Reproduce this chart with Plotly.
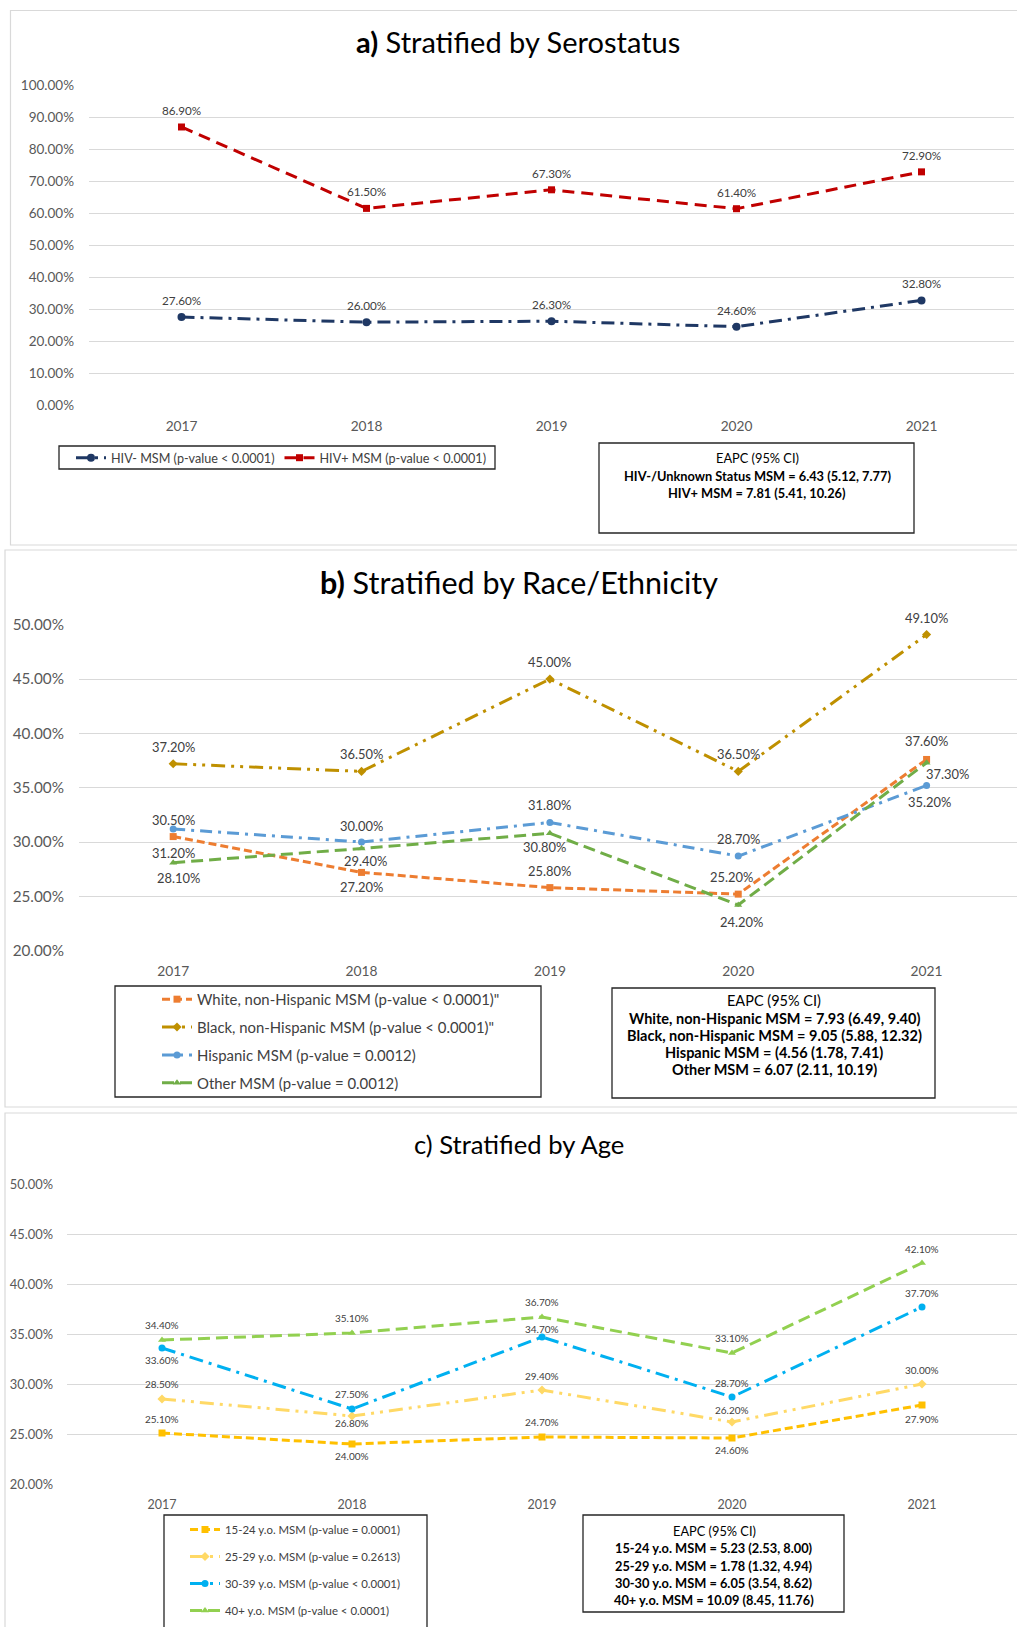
import plotly.graph_objects as go

# ---------------- data ----------------
years = ["2017", "2018", "2019", "2020", "2021"]

# a) serostatus
hiv_neg = [27.6, 26.0, 26.3, 24.6, 32.8]
hiv_pos = [86.9, 61.5, 67.3, 61.4, 72.9]
a_names = ["HIV- MSM (p-value < 0.0001)", "HIV+ MSM (p-value < 0.0001)"]
a_eapc = ["EAPC (95% CI)",
          "HIV-/Unknown Status MSM = 6.43 (5.12, 7.77)",
          "HIV+ MSM = 7.81 (5.41, 10.26)"]

# b) race / ethnicity
white = [30.5, 27.2, 25.8, 25.2, 37.6]
black = [37.2, 36.5, 45.0, 36.5, 49.1]
hispanic = [31.2, 30.0, 31.8, 28.7, 35.2]
other = [28.1, 29.4, 30.8, 24.2, 37.3]
# data-label texts as printed in the original (2017 White/Hispanic labels appear swapped there)
white_lbl = ["30.50%", "27.20%", "25.80%", "25.20%", "37.60%"]
hispanic_lbl = ["31.20%", "30.00%", "31.80%", "28.70%", "35.20%"]
b_names = ['White, non-Hispanic MSM (p-value < 0.0001)"',
           'Black, non-Hispanic MSM (p-value < 0.0001)"',
           "Hispanic MSM (p-value = 0.0012)",
           "Other MSM (p-value = 0.0012)"]
b_eapc = ["EAPC (95% CI)",
          "White, non-Hispanic MSM = 7.93 (6.49, 9.40)",
          "Black, non-Hispanic MSM = 9.05 (5.88, 12.32)",
          "Hispanic MSM = (4.56 (1.78, 7.41)",
          "Other MSM = 6.07 (2.11, 10.19)"]

# c) age
age_15_24 = [25.1, 24.0, 24.7, 24.6, 27.9]
age_25_29 = [28.5, 26.8, 29.4, 26.2, 30.0]
age_30_39 = [33.6, 27.5, 34.7, 28.7, 37.7]
age_40p = [34.4, 35.1, 36.7, 33.1, 42.1]
c_names = ["15-24 y.o. MSM (p-value = 0.0001)",
           "25-29 y.o. MSM (p-value = 0.2613)",
           "30-39 y.o. MSM (p-value < 0.0001)",
           "40+ y.o. MSM (p-value < 0.0001)"]
c_eapc = ["EAPC (95% CI)",
          "15-24 y.o. MSM = 5.23 (2.53, 8.00)",
          "25-29 y.o. MSM = 1.78 (1.32, 4.94)",
          "30-30 y.o. MSM = 6.05 (3.54, 8.62)",
          "40+ y.o. MSM = 10.09 (8.45, 11.76)"]

# ---------------- helpers ----------------
W, H = 1017, 1627
FONT = "Lato"


def X(px):
    return px / W


def Y(py):
    return 1 - py / H


def fmt(v):
    return f"{v:.2f}%"


fig = go.Figure()
annotations = []
shapes = []


def add_series(vals, name, color, dash, symbol, msize, lw, xa, ya, legend, lbl_shift, lbl_font,
               labels=None, xshift=None):
    fig.add_trace(go.Scatter(
        x=years, y=vals, name=name, mode="lines+markers",
        line=dict(color=color, width=lw, dash=dash),
        marker=dict(symbol=symbol, size=msize, color=color),
        xaxis=xa, yaxis=ya, legend=legend, legendgroup=name,
        cliponaxis=False, hoverinfo="skip"))
    for i, v in enumerate(vals):
        annotations.append(dict(
            x=i, y=v, xref=xa, yref=ya,
            text=(labels[i] if labels else fmt(v)),
            showarrow=False, xanchor="center", yanchor="middle",
            yshift=lbl_shift[i], xshift=(xshift[i] if xshift else 0),
            font=dict(family=FONT, size=lbl_font, color="#404040")))


# ---------- panel a ----------
NAVY = "#1F3864"
RED = "#C00000"
add_series(hiv_neg, a_names[0], NAVY, "13px,6px,3px,6px", "circle", 8, 3, "x", "y", "legend",
           [17] * 5, 11.7)
add_series(hiv_pos, a_names[1], RED, "12px,7px", "square", 7, 3, "x", "y", "legend",
           [17] * 5, 11.7)

# ---------- panel b ----------
add_series(white, b_names[0], "#ED7D31", "8px,4px", "square", 7, 3, "x2", "y2", "legend2",
           [17, -15, 17, 17, 18], 12.9, labels=white_lbl, xshift=[0, 0, 0, -7, 0])
add_series(black, b_names[1], "#BF9000", "14px,6px,3px,6px,3px,6px", "diamond", 7, 3, "x2", "y2",
           "legend2", [17, 17, 17, 17, 17], 12.9)
add_series(hispanic, b_names[2], "#5B9BD5", "12px,6px,3px,6px", "circle", 7, 3, "x2", "y2",
           "legend2", [-24, 16, 17, 17, -16], 12.9, labels=hispanic_lbl, xshift=[0, 0, 0, 0, 3])
add_series(other, b_names[3], "#70AD47", "12px,6px", "triangle-up", 7, 3, "x2", "y2", "legend2",
           [-15, -12, -14, -17, -11], 12.9, xshift=[5, 4, -5, 3, 21])

# ---------- panel c ----------
add_series(age_15_24, c_names[0], "#FFC000", "8px,4px", "square", 7, 3, "x3", "y3", "legend3",
           [14, -12, 15, -12, -14], 10)
add_series(age_25_29, c_names[1], "#FFD966", "14px,6px,3px,6px,3px,6px", "diamond", 7, 3, "x3",
           "y3", "legend3", [15, -7, 14, 12, 14], 10)
add_series(age_30_39, c_names[2], "#00B0F0", "14px,6px,3px,6px", "circle", 7, 3, "x3", "y3",
           "legend3", [-12, 15, 8, 14, 14], 10)
add_series(age_40p, c_names[3], "#92D050", "12px,6px", "triangle-up", 7, 3, "x3", "y3", "legend3",
           [15, 15, 15, 15, 14], 10)

# ---------- axes ----------
GRID = "#D9D9D9"
TICKC = "#595959"


def xax(domain, rng, size, standoff):
    return dict(domain=domain, type="category", range=rng, showgrid=False, zeroline=False,
                showline=False, ticks="", tickfont=dict(family=FONT, size=size, color=TICKC),
                ticklabelstandoff=standoff, fixedrange=True)


def yax(domain, rng, dtick, size, anchor, standoff):
    return dict(domain=domain, range=rng, dtick=dtick, tickformat=".2f", ticksuffix="%",
                showgrid=True, gridcolor=GRID, gridwidth=1, zeroline=False, showline=False,
                ticks="", tickfont=dict(family=FONT, size=size, color=TICKC), anchor=anchor,
                ticklabelstandoff=standoff, fixedrange=True)


fig.update_layout(
    xaxis=dict(xax([X(89), X(1014)], [-0.5, 4.5], 13.7, 11), anchor="y"),
    yaxis=yax([Y(405.5), Y(85)], [0, 100], 10, 13.5, "x", 14),
    xaxis2=dict(xax([X(79), 1.0], [-0.5, 4.48], 13.8, 11), anchor="y2"),
    yaxis2=yax([Y(950.6), Y(624.8)], [20, 50], 5, 15.3, "x2", 14),
    xaxis3=dict(xax([X(67), 1.0], [-0.5, 4.5], 12.5, 11), anchor="y3"),
    yaxis3=yax([Y(1484), Y(1184)], [20, 50], 5, 12.9, "x3", 13),
)

# ---------- panel borders ----------
for (x0, y0, x1, y1) in [(10.5, 10.5, 1030, 545), (5, 550, 1030, 1107), (5, 1113, 1030, 1640)]:
    shapes.append(dict(type="rect", xref="paper", yref="paper", x0=X(x0), x1=X(x1), y0=Y(y0),
                       y1=Y(y1), line=dict(color="#D9D9D9", width=1.2), layer="below"))

# ---------- legend / EAPC boxes ----------
for (x0, y0, x1, y1) in [(59, 446, 495, 469), (599, 443, 914, 533),
                         (115, 986, 541, 1097), (612, 988, 935, 1098),
                         (164, 1515, 427, 1630), (583, 1515, 844, 1612)]:
    shapes.append(dict(type="rect", xref="paper", yref="paper", x0=X(x0), x1=X(x1), y0=Y(y0),
                       y1=Y(y1), line=dict(color="#262626", width=1.3)))

# ---------- titles ----------
for cx, cy, txt, size in [(518, 42, "<b>a)</b> Stratified by Serostatus", 29),
                          (519, 582, "<b>b)</b> Stratified by Race/Ethnicity", 30.5),
                          (519, 1144, "c) Stratified by Age", 25.6)]:
    annotations.append(dict(x=X(cx), y=Y(cy), xref="paper", yref="paper", showarrow=False,
                            xanchor="center", yanchor="middle", text=txt,
                            font=dict(family=FONT, size=size, color="#000000")))


# ---------- EAPC texts ----------
def eapc(lines, cx, ys, size):
    for i, (t, yy) in enumerate(zip(lines, ys)):
        annotations.append(dict(x=X(cx), y=Y(yy), xref="paper", yref="paper", showarrow=False,
                                xanchor="center", yanchor="middle",
                                text=(t if i == 0 else f"<b>{t}</b>"),
                                font=dict(family=FONT, size=size, color="#000000")))


eapc(a_eapc, 757, [458, 476, 493], 12.8)
eapc(b_eapc, 774, [1000, 1018, 1035, 1052, 1069], 14.5)
eapc(c_eapc, 714, [1531, 1548, 1566, 1583, 1600], 12.8)

fig.update_layout(
    width=W, height=H, margin=dict(l=0, r=0, t=0, b=0, autoexpand=False),
    paper_bgcolor="white", plot_bgcolor="white",
    font=dict(family=FONT, color="#404040"),
    showlegend=True,
    legend=dict(orientation="h", x=X(71), y=Y(458), xanchor="left", yanchor="middle",
                font=dict(family=FONT, size=12.6, color="#404040"), bgcolor="rgba(0,0,0,0)",
                itemwidth=30, traceorder="normal"),
    legend2=dict(orientation="v", x=X(157), y=Y(1041), xanchor="left", yanchor="middle",
                 font=dict(family=FONT, size=14.9, color="#404040"), bgcolor="rgba(0,0,0,0)",
                 itemwidth=30, tracegroupgap=5.5),
    legend3=dict(orientation="v", x=X(185), y=Y(1570), xanchor="left", yanchor="middle",
                 font=dict(family=FONT, size=11.4, color="#404040"), bgcolor="rgba(0,0,0,0)",
                 itemwidth=30, tracegroupgap=8),
    annotations=annotations, shapes=shapes,
)

fig.write_html("out.html")
